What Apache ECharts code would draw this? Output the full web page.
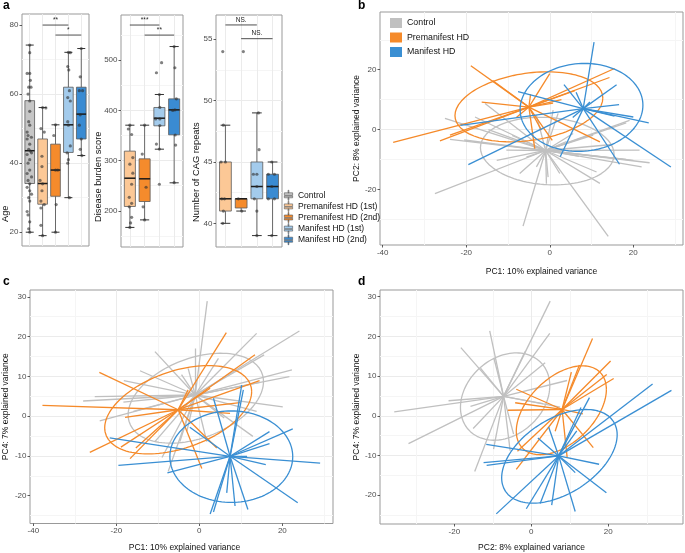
<!DOCTYPE html>
<html><head><meta charset="utf-8">
<script src="https://cdn.jsdelivr.net/npm/echarts@6/dist/echarts.min.js"></script>
<style>html,body{margin:0;padding:0;background:#fff}#chart{width:685px;height:553px}</style>
</head><body><div id="chart"></div>
<script>
// ---------------- DATA ----------------
const groups5 = ['Control', 'Premanifest HD (1st)', 'Premanifest HD (2nd)', 'Manifest HD (1st)', 'Manifest HD (2nd)'];
const groups4 = groups5.slice(1);
const pcaGroups = ['Control', 'Premanifest HD', 'Manifest HD'];

// tick labels
const ageTicks = [20, 40, 60, 80];
const dbsTicks = [200, 300, 400, 500];
const cagTicks = [40, 45, 50, 55];
const pc1Ticks = [-40, -20, 0, 20];
const pc2TicksB = [-20, 0, 20];
const pc2TicksD = [-20, 0, 20];
const pc4Ticks = [-20, -10, 0, 10, 20, 30];

// box stats: [min, Q1, median, Q3, max]
const ageStats = [[20, 34.1, 43.6, 58.1, 74.2], [19, 28.1, 34.1, 47, 56.1], [20, 30.4, 38, 45.5, 51.1], [30, 43.1, 51.1, 62, 72.1], [42.2, 47, 54.2, 62, 73.2]];
// points: [value, jitter]
const agePoints = [
  [[74.2,0],[72,0],[66,-0.2],[66,0],[64,0.05],[62,-0.08],[62,0.1],[60,-0.13],[58,0],[55,0],[52,-0.08],[51,0],[49,-0.2],[48,-0.13],[47.5,0.13],[47,-0.2],[45.5,0],[44,-0.08],[43.5,0.05],[43,0.14],[42.5,-0.2],[41,0],[40,-0.13],[38,0],[37,-0.2],[36,0.14],[35,-0.13],[34,0],[33,-0.2],[32,0],[31,0.14],[30,-0.08],[29,0],[26,-0.2],[25,-0.13],[23,0],[21,-0.08],[20,0]],
  [[56.1,0],[56,0.25],[50,-0.13],[49,0.13],[42,-0.05],[39,-0.05],[35,-0.2],[34,0],[32,-0.05],[29,-0.13],[28,0.13],[27,-0.13],[22,-0.13],[19,0]],
  [[51.1,0],[48,-0.13],[38,0.18],[38,0],[28,0.05],[20,0]],
  [[72.1,0],[72,0.15],[68,-0.05],[67,0.03],[61,0.08],[59,-0.05],[58,0.15],[52,-0.05],[51,0],[45,0.15],[43,-0.1],[41,0],[40,-0.05],[30,0.08]],
  [[73.2,0],[65,-0.08],[61,-0.15],[61,0.1],[54,-0.08],[51,-0.15],[47,0],[44,-0.08],[42.2,0.05]]
];
const ageSig = [[1, 3, 80, '**'], [2, 4, 77.1, '*']];

const dbsStats = [[167, 208.7, 265, 318.9, 370.6], [182, 218.6, 263.8, 303.6, 370.6], [322.8, 369.3, 384.5, 405.8, 431.7], [255.8, 351.4, 401.1, 423, 527.2]];
const dbsPoints = [
  [[370.6,0],[363,-0.1],[352,0.12],[306,0.2],[293,0],[275,0.2],[253,0.12],[227,-0.04],[215,0.12],[208,-0.04],[187,0.12],[176,0.05],[167,0]],
  [[370.6,0],[313,-0.16],[247,0.1],[208,-0.1],[182,0]],
  [[495,0.15],[475,-0.2],[431.7,0],[406,0.03],[383,-0.25],[383,0.03],[370,0.03],[333,-0.2],[323,0],[253,0]],
  [[527.2,0],[485,0.05],[423,0.15],[401,0.05],[400,-0.1],[351,0.07],[331,0.1],[256,0]]
];
const dbsSig = [[0, 2, 570, '***'], [1, 3, 550, '**']];

const cagStats = [[40, 41, 42, 45, 48], [41, 41.25, 42, 42, 42], [39, 42, 43, 45, 49], [39, 42, 43, 44, 45]];
const cagPoints = [
  [[54,-0.17],[48,-0.13],[45,-0.28],[45,0],[42,-0.23],[42,-0.06],[41,-0.13],[40,-0.17]],
  [[54,0.14],[42,-0.18],[41,0.04]],
  [[49,0.1],[46,0.14],[44,-0.22],[44,0],[43,0],[42,-0.16],[41,0],[39,0]],
  [[45,-0.05],[44,-0.27],[44,0.12],[43,-0.05],[42,-0.27],[42,0.12],[39,-0.05]]
];
const cagSig = [[0, 2, 56.17, 'NS.'], [1, 3, 55.05, 'NS.']];

// PCA: centroids and sample end points
const bCentroids = [[-1, -7], [-5, 7.5], [8, 7]];
const bControl = [[-27.5,-21.4],[-6.4,-32.3],[14,-35.7],[-25.1,3.7],[-23.9,-3.3],[-15.5,8.7],[-17.9,4.2],[-7.2,-14.7],[-3.2,-12.5],[-0.8,-18.1],[-0.4,-15.9],[2.4,-14.7],[12,-18],[11.2,-14.2],[22,-12.5],[23.9,-11.1],[21.5,-6.9],[20,-10.3],[18.3,-10],[19.1,3.1],[18.3,2.2],[2,5.4],[0.8,6.5],[-3.2,4.8],[5.6,-1.3],[10.4,-1.9],[-14.7,0],[-12.7,-10.3],[-10.4,-6.9],[-5.6,-9.2],[-20.5,-3.5],[7,-9],[15,-5],[-9,-2],[4,-4]];
const bPre = [[-37.5,-4.3],[-18.9,21.3],[-13.7,16.4],[-16.3,9.2],[-26.3,-3.8],[-23.9,-1.9],[15.5,20.4],[14.3,17.4],[2.8,10],[0,18.7],[-3.6,-6.4],[0.6,-3.6],[12,-4.1],[-4.6,11.8],[-2,-0.2],[0.8,8.8],[-8,4],[6,13]];
const bMan = [[10.6,29.2],[6.3,12.5],[3.4,15],[-7.6,12.7],[16,15],[16.6,8.3],[20,4.2],[23.7,2.2],[29,-12.5],[16.7,-11.6],[2.5,-9.1],[-19.5,-11.7],[-21.4,1.4],[9.6,9.2],[15.5,4.5],[5.5,4]];
// ellipses: [cx, cy, halfWidth, halfHeight, tilt]
const bEllipses = [[-0.6, -7.2, 16, 11.3, -0.1], [-5, 7.6, 17.7, 11.7, 0.25], [7.6, 7.4, 14.7, 14.7, 0.05]];

const cCentroids = [[-1, 5.3], [-5.1, 1.6], [7.4, -10.1]];
const cControl = [[1.9,28.9],[-1,17],[-10.7,16.2],[4.6,14.5],[13.8,20.8],[24.1,21.4],[15.6,15.4],[22.3,11.6],[21.7,9.9],[14.6,8.5],[20.1,2.3],[13.8,1.2],[12.9,-5.1],[6,-0.5],[1.8,-6.4],[-3,-3.8],[-4.7,-6.4],[-9,-10.4],[-7.5,-13.9],[-10.7,-6.4],[-14.3,11.4],[-18.2,8.9],[-25.2,4.9],[-28,3.8],[-24,-1.2],[-18.3,3.5],[-15.9,1.2],[-4.3,10.4],[-2.7,12]];
const cPre = [[-37.8,2.7],[-24.1,11],[-26.4,-9.1],[-16.7,-10.7],[-17.9,-0.3],[-18.9,-7.8],[-15.3,-8],[6.5,21],[13.4,15.4],[14.5,8.9],[9.8,3.4],[7.4,0.7],[0.6,-13.2],[4.2,-8],[2.6,7],[-2.7,6.6]];
const cMan = [[10.2,7.8],[10.6,6.6],[3.4,4.5],[-2.3,-2.8],[16.9,-3.9],[22.5,-3.2],[16.9,-6.9],[-21.6,-5.5],[-19.5,-12.4],[-7.7,-14.3],[29.1,-11.8],[23.7,-21.8],[16,-12.2],[11.7,-23.5],[8.6,-22.6],[2.6,-24.6],[3.4,-24.1],[6.6,-19.3],[11.5,-10.1]];
const cEllipses = [[-0.85, 4.5, 16.3, 11.3, 0.37], [-5.1, 1.6, 17.7, 11.1, 0.41], [7.7, -10.2, 14.8, 11.5, 0]];

const dCentroids = [[-7.2, 4.9], [8, 1.6], [7.1, -10.1]];
const dControl = [[4.9,28.9],[4.8,20.8],[-10.8,21.4],[-18.3,17.2],[-1.6,16.2],[-9.7,14.5],[3.6,13.4],[9.3,8.9],[3,3.1],[7.5,2.2],[-35.6,1],[-21.5,3.8],[-31.9,-7],[-15.1,-3.2],[-14.7,-14],[-9.8,-8.4],[-5.5,-8.8],[-4.6,-4.6],[-13.2,12],[-15.8,2.4]];
const dPre = [[15.9,19.5],[20.6,13.8],[21.4,9.4],[19.6,10.4],[12.5,12.8],[10.4,11],[-3.9,6.7],[-4.2,3.3],[-6.1,1.4],[-3.9,-13.5],[-3.6,-8.9],[16.1,-8],[13.4,0.5],[6.2,-3.9],[9.3,-10.4]];
const dMan = [[31.5,8],[36.4,6.4],[15.1,4.6],[12.9,2.1],[4.5,-2.8],[1.7,-5.6],[-11.7,-7.2],[-12.4,-11.8],[-11.6,-12.5],[-9.1,-24.7],[-1.3,-23.4],[2.3,-22.1],[5.3,-22.5],[11.4,-24.1],[19.5,-19.4],[17.6,-12.2],[11.4,-14.3],[11.8,-3.8]];
const dEllipses = [[-6.8, 4.85, 11.6, 11, 0.25], [7.8, 1.4, 11.7, 11.2, 0.47], [7.3, -10.2, 15, 11.8, 0.46]];

// ---------------- STYLE ----------------
const FONT = '"Liberation Sans", Arial, Helvetica, sans-serif';
const fills = {
  'Control': '#c6c6c6',
  'Premanifest HD (1st)': '#fcc896',
  'Premanifest HD (2nd)': '#f58b2c',
  'Manifest HD (1st)': '#a3cbec',
  'Manifest HD (2nd)': '#3a8bd2'
};
const pcaColors = {'Control': '#c0c0c0', 'Premanifest HD': '#f58a2a', 'Manifest HD': '#3a8fd3'};
const GRID_LINE = '#ebebeb', MINOR_LINE = '#f5f5f5', LABEL = '#4d4d4d';

const chart = echarts.init(document.getElementById('chart'));

const grids = [
  {left: 22, top: 14, width: 67, height: 232},
  {left: 121, top: 15, width: 62, height: 232},
  {left: 216, top: 15, width: 66, height: 232},
  {left: 380, top: 12, width: 303, height: 233},
  {left: 30, top: 290, width: 303, height: 234},
  {left: 380, top: 290, width: 303, height: 235}
].map(g => Object.assign({show: true, borderColor: '#999', borderWidth: 1, backgroundColor: '#fff', containLabel: false}, g));

function fmt(step) {
  return v => (Math.abs(v / step - Math.round(v / step)) < 1e-6 ? String(Math.round(v)) : '');
}
function valueAxis(gridIndex, min, max, step, opts) {
  opts = opts || {};
  const tickVals = opts.ticks;
  const tick = {show: !opts.noLabel, length: 2.5, lineStyle: {color: '#333', width: 0.8}};
  const label = {show: !opts.noLabel, fontSize: 8, color: LABEL, fontFamily: FONT, margin: 3.5, formatter: fmt(step), showMinLabel: true, showMaxLabel: true};
  if (tickVals) { tick.customValues = tickVals; label.customValues = tickVals; }
  return Object.assign({
    type: 'value', gridIndex, min, max, minInterval: step, maxInterval: step,
    axisLine: {show: false, onZero: false},
    axisTick: tick,
    axisLabel: label,
    splitLine: {show: true, showMinLine: false, showMaxLine: false, lineStyle: {color: GRID_LINE, width: 1}},
    minorTick: {show: false, splitNumber: 2},
    minorSplitLine: {show: !opts.noMinor, lineStyle: {color: MINOR_LINE, width: 1}}
  }, opts.extra || {});
}
function axisName(text, gap, pad) {
  return {name: text, nameLocation: 'middle', nameGap: gap, nameTextStyle: {fontSize: 8.5, color: '#111', fontFamily: FONT, padding: pad || 0}};
}

const xAxes = [
  valueAxis(0, -0.6, 4.6, 1, {noLabel: true, noMinor: true}),
  valueAxis(1, -0.6, 3.6, 1, {noLabel: true, noMinor: true}),
  valueAxis(2, -0.6, 3.6, 1, {noLabel: true, noMinor: true}),
  valueAxis(3, -40.65, 31.9, 20, {ticks: pc1Ticks, extra: axisName('PC1: 10% explained variance', 22, [0, 0, 0, 20])}),
  valueAxis(4, -40.8, 32.2, 20, {ticks: pc1Ticks, extra: axisName('PC1: 10% explained variance', 19.5, [0, 0, 0, 6])}),
  valueAxis(5, -39.3, 39.4, 20, {ticks: pc2TicksD, extra: axisName('PC2: 8% explained variance', 19)})
];
const yAxes = [
  valueAxis(0, 16, 83.2, 20, {ticks: ageTicks}),
  valueAxis(1, 128, 590, 100, {ticks: dbsTicks}),
  valueAxis(2, 38.07, 56.98, 5, {ticks: cagTicks}),
  valueAxis(3, -38.6, 39.3, 20, {ticks: pc2TicksB, extra: axisName('PC2: 8% explained variance', 17)}),
  valueAxis(4, -27, 31.7, 10, {ticks: pc4Ticks, extra: axisName('PC4: 7% explained variance', 20)}),
  valueAxis(5, -27.25, 31.7, 10, {ticks: pc4Ticks, extra: axisName('PC4: 7% explained variance', 17)})
];

function boxRender(params, api) {
  const x = api.value(0);
  const v = [1, 2, 3, 4, 5].map(k => api.value(k));
  const bw = api.size([0.75, 0])[0];
  const cw = api.size([0.62, 0])[0];
  const c = k => api.coord([x, v[k]]);
  const pLo = c(0), pQ1 = c(1), pMed = c(2), pQ3 = c(3), pHi = c(4);
  const cx = pLo[0];
  const stroke = '#5a5a5a';
  return {type: 'group', children: [
    {type: 'line', shape: {x1: cx, y1: pHi[1], x2: cx, y2: pQ3[1]}, style: {stroke, lineWidth: 0.9}},
    {type: 'line', shape: {x1: cx, y1: pQ1[1], x2: cx, y2: pLo[1]}, style: {stroke, lineWidth: 0.9}},
    {type: 'line', shape: {x1: cx - cw / 2, y1: pHi[1], x2: cx + cw / 2, y2: pHi[1]}, style: {stroke: '#333', lineWidth: 1}},
    {type: 'line', shape: {x1: cx - cw / 2, y1: pLo[1], x2: cx + cw / 2, y2: pLo[1]}, style: {stroke: '#333', lineWidth: 1}},
    {type: 'rect', shape: {x: cx - bw / 2, y: pQ3[1], width: bw, height: pQ1[1] - pQ3[1]}, style: {fill: api.visual('color'), stroke, lineWidth: 0.8}},
    {type: 'line', shape: {x1: cx - bw / 2, y1: pMed[1], x2: cx + bw / 2, y2: pMed[1]}, style: {stroke: '#1a1a1a', lineWidth: 1.5}}
  ]};
}
function sigRender(sig) {
  return function (params, api) {
    const s = sig[params.dataIndex];
    const p1 = api.coord([s[0], s[2]]), p2 = api.coord([s[1], s[2]]);
    return {type: 'group', children: [
      {type: 'line', shape: {x1: p1[0], y1: p1[1], x2: p2[0], y2: p2[1]}, style: {stroke: '#222', lineWidth: 0.8}},
      {type: 'text', x: (p1[0] + p2[0]) / 2, y: p1[1] - 1.5, style: {text: s[3], fill: '#222', fontSize: 6.5, align: 'center', verticalAlign: 'bottom', fontFamily: FONT}}
    ]};
  };
}

const series = [];
const boxPanels = [
  {grid: 0, cats: groups5, stats: ageStats, pts: agePoints, sig: ageSig},
  {grid: 1, cats: groups4, stats: dbsStats, pts: dbsPoints, sig: dbsSig},
  {grid: 2, cats: groups4, stats: cagStats, pts: cagPoints, sig: cagSig}
];
boxPanels.forEach(p => {
  p.cats.forEach((g, i) => {
    series.push({
      type: 'custom', name: g, xAxisIndex: p.grid, yAxisIndex: p.grid,
      itemStyle: {color: fills[g]}, renderItem: boxRender, silent: true, z: 2,
      encode: {x: 0, y: [1, 2, 3, 4, 5]},
      data: [[i].concat(p.stats[i])]
    });
  });
  const pts = [];
  p.pts.forEach((arr, i) => arr.forEach(([v, j]) => pts.push([i + j, v])));
  series.push({
    type: 'scatter', xAxisIndex: p.grid, yAxisIndex: p.grid, data: pts, symbolSize: 3.2,
    itemStyle: {color: 'rgba(45,45,45,0.75)'}, silent: true, z: 4
  });
  series.push({
    type: 'custom', xAxisIndex: p.grid, yAxisIndex: p.grid, renderItem: sigRender(p.sig), silent: true, z: 4,
    encode: {x: 0, y: 1}, clip: false,
    data: p.sig.map(s => [s[0], s[2]])
  });
});

function ellipsePoints(e) {
  const [cx, cy, w, h, r] = e;
  const s = Math.sqrt(1 - r * r);
  const pts = [];
  for (let k = 0; k <= 120; k++) {
    const t = 2 * Math.PI * k / 120;
    pts.push([cx + w * Math.cos(t), cy + h * (r * Math.cos(t) + s * Math.sin(t))]);
  }
  return pts;
}
const pcaPanels = [
  {grid: 3, cent: bCentroids, ends: [bControl, bPre, bMan], ell: bEllipses},
  {grid: 4, cent: cCentroids, ends: [cControl, cPre, cMan], ell: cEllipses},
  {grid: 5, cent: dCentroids, ends: [dControl, dPre, dMan], ell: dEllipses}
];
pcaPanels.forEach(p => {
  pcaGroups.forEach((g, gi) => {
    const col = pcaColors[g];
    series.push({
      type: 'lines', name: g, coordinateSystem: 'cartesian2d', xAxisIndex: p.grid, yAxisIndex: p.grid,
      polyline: false, silent: true, z: 3 + gi,
      itemStyle: {color: col},
      lineStyle: {color: col, width: 1.3, opacity: 1, curveness: 0},
      data: p.ends[gi].map(e => ({coords: [p.cent[gi], e]}))
    });
    series.push({
      type: 'line', name: g, xAxisIndex: p.grid, yAxisIndex: p.grid, silent: true, z: 3 + gi,
      showSymbol: false, symbol: 'none', smooth: false,
      itemStyle: {color: col},
      lineStyle: {color: col, width: 1.3},
      data: ellipsePoints(p.ell[gi])
    });
  });
});

const boxIcon = 'path://M4.5,0L5.5,0L5.5,3L4.5,3Z M0,3L10,3L10,6.1L0,6.1Z M0,6.9L10,6.9L10,9L0,9Z M4.5,9L5.5,9L5.5,12L4.5,12Z';

const option = {
  animation: false,
  backgroundColor: '#fff',
  textStyle: {fontFamily: FONT},
  grid: grids,
  xAxis: xAxes,
  yAxis: yAxes,
  legend: [
    {
      orient: 'vertical', left: 284, top: 190, itemWidth: 9, itemHeight: 10, itemGap: 0.5, padding: 0,
      icon: boxIcon, selectedMode: false,
      textStyle: {fontSize: 8.5, color: '#111', fontFamily: FONT},
      data: groups5.map(g => ({name: g, itemStyle: {color: fills[g], borderColor: '#555', borderWidth: 0.6}}))
    },
    {
      orient: 'vertical', left: 390, top: 18, itemWidth: 12, itemHeight: 10, itemGap: 4.5, padding: 0,
      icon: 'rect', selectedMode: false,
      textStyle: {fontSize: 8.8, color: '#111', fontFamily: FONT},
      data: pcaGroups.map(g => ({name: g, itemStyle: {color: pcaColors[g], borderWidth: 0}}))
    }
  ],
  graphic: [
    {type: 'text', left: 3, top: 0, style: {text: 'a', fontSize: 12, fontWeight: 'bold', fill: '#000', fontFamily: FONT}},
    {type: 'text', left: 358, top: 0, style: {text: 'b', fontSize: 12, fontWeight: 'bold', fill: '#000', fontFamily: FONT}},
    {type: 'text', left: 3, top: 276, style: {text: 'c', fontSize: 12, fontWeight: 'bold', fill: '#000', fontFamily: FONT}},
    {type: 'text', left: 358, top: 276, style: {text: 'd', fontSize: 12, fontWeight: 'bold', fill: '#000', fontFamily: FONT}},
    {type: 'text', x: 5, y: 222, rotation: Math.PI / 2, style: {text: 'Age', fontSize: 9.3, fill: '#111', align: 'left', verticalAlign: 'middle', fontFamily: FONT}},
    {type: 'text', x: 98.5, y: 222, rotation: Math.PI / 2, style: {text: 'Disease burden score', fontSize: 9.3, fill: '#111', align: 'left', verticalAlign: 'middle', fontFamily: FONT}},
    {type: 'text', x: 196.5, y: 222, rotation: Math.PI / 2, style: {text: 'Number of CAG repeats', fontSize: 9.3, fill: '#111', align: 'left', verticalAlign: 'middle', fontFamily: FONT}}
  ],
  series
};
chart.setOption(option);
</script>
</body></html>
